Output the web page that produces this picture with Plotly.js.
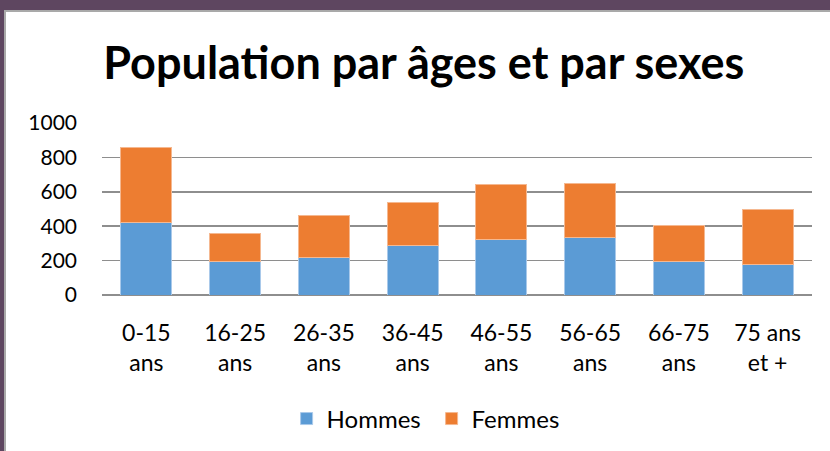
<!DOCTYPE html>
<html>
<head>
<meta charset="utf-8">
<script src="https://cdn.plot.ly/plotly-3.0.1.min.js"></script>
<style>
  html, body { margin: 0; padding: 0; width: 830px; height: 451px; overflow: hidden; background: #5e4660; }
  #edge { position: absolute; left: 4px; top: 10px; width: 826px; height: 441px; background: #a9a9a9; }
  #chart { position: absolute; left: 6px; top: 12px; width: 824px; height: 439px; background: #ffffff; }
</style>
</head>
<body>
<div id="edge"></div>
<div id="chart"></div>
<script>
const categories = ["0-15<br>ans", "16-25<br>ans", "26-35<br>ans", "36-45<br>ans", "46-55<br>ans", "56-65<br>ans", "66-75<br>ans", "75 ans<br>et +"];
const hommes = [420, 195, 220, 285, 320, 335, 195, 180];
const femmes = [440, 165, 240, 255, 325, 312, 210, 320];
const yTicks = [0, 200, 400, 600, 800, 1000];

const FONT = "Lato, 'Open Sans', sans-serif";

const traces = [
  {
    type: "bar", name: "Hommes", x: categories, y: hommes,
    marker: { color: "#5b9bd5", line: { color: "#a9c9ea", width: 1 } }
  },
  {
    type: "bar", name: "Femmes", x: categories, y: femmes,
    marker: { color: "#ed7d31", line: { color: "#f5b890", width: 1 } }
  }
];

const layout = {
  width: 824, height: 439,
  margin: { l: 96, r: 18, t: 111, b: 156, pad: 0 },
  paper_bgcolor: "#ffffff", plot_bgcolor: "#ffffff",
  barmode: "stack", bargap: 0.425,
  font: { family: FONT, color: "#000000", size: 21 },
  title: {
    text: "<b>Population par âges et par sexes</b>",
    font: { family: FONT, size: 45, color: "#000000" },
    x: 0.507, xanchor: "center", y: 0.847, yanchor: "bottom", yref: "container"
  },
  xaxis: {
    type: "category", showgrid: false, showline: false, zeroline: false,
    ticks: "", tickfont: { family: FONT, size: 23, color: "#000000" },
    tickangle: 0, automargin: false, ticklabelstandoff: 22
  },
  yaxis: {
    range: [0, 1000], tickvals: yTicks, ticktext: yTicks.map(String),
    showgrid: true, gridcolor: "#8e8e8e", gridwidth: 1.5,
    zeroline: true, zerolinecolor: "#8e8e8e", zerolinewidth: 1.5,
    showline: false, ticks: "", ticklen: 0, tickfont: { family: FONT, size: 21, color: "#000000" },
    automargin: false, ticklabelstandoff: 24
  },
  legend: {
    orientation: "h", xref: "container", yref: "container",
    x: 0.5165, xanchor: "center", y: 0.073, yanchor: "middle",
    font: { family: FONT, size: 24, color: "#000000" },
    traceorder: "normal", itemwidth: 30, entrywidth: 100
  },
  showlegend: true
};

Plotly.newPlot("chart", traces, layout, { displayModeBar: false, staticPlot: true });
</script>
</body>
</html>
